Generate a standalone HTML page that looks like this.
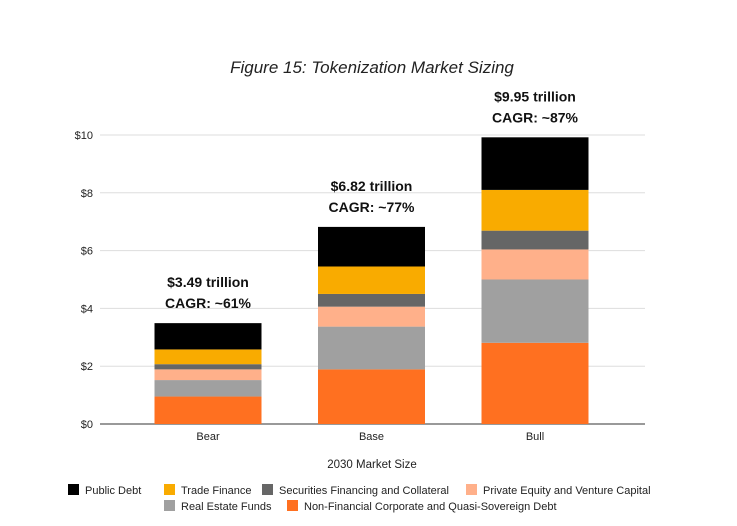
<!DOCTYPE html>
<html><head><meta charset="utf-8"><style>
body{margin:0;background:#fff;}
svg{display:block;font-family:"Liberation Sans",sans-serif;}
</style></head><body>
<svg id="chart" width="737" height="526">
<text x="372" y="73" text-anchor="middle" font-size="17" font-style="italic" fill="#222">Figure 15: Tokenization Market Sizing</text>
<g id="grid"></g><g id="bars"></g><g id="ann"></g>
<text x="372" y="468" text-anchor="middle" font-size="11.5" fill="#222">2030 Market Size</text>
<g id="legend"></g>
</svg>
<script>
const categories=["Bear","Base","Bull"];
const seriesNames=["Non-Financial Corporate and Quasi-Sovereign Debt","Real Estate Funds","Private Equity and Venture Capital","Securities Financing and Collateral","Trade Finance","Public Debt"];
const nonFinancial=[0.95,1.89,2.81];
const realEstate=[0.57,1.48,2.19];
const privateEquity=[0.37,0.69,1.04];
const securitiesFin=[0.18,0.44,0.65];
const tradeFinance=[0.51,0.95,1.41];
const publicDebt=[0.91,1.37,1.82];
const totals=["$3.49 trillion","$6.82  trillion","$9.95  trillion"];
const cagrs=["CAGR: ~61%","CAGR: ~77%","CAGR: ~87%"];
const yTicks=[0,2,4,6,8,10];
const colors=["#ff7020","#a0a0a0","#ffb08a","#666666","#f9ab00","#000000"];
const series=[nonFinancial,realEstate,privateEquity,securitiesFin,tradeFinance,publicDebt];
const NS="http://www.w3.org/2000/svg";
const y=v=>424-v*28.9;
const xc=i=>208+i*163.5;
const bw=107;
function mk(tag,attrs,parent,text){const e=document.createElementNS(NS,tag);for(const k in attrs)e.setAttribute(k,attrs[k]);if(text!==undefined)e.textContent=text;parent.appendChild(e);return e;}
const grid=document.getElementById('grid');
yTicks.forEach(t=>{
 const l=mk('line',{x1:100,x2:645,y1:y(t),y2:y(t),stroke:t===0?'#333':'#ddd','stroke-width':1},grid);
 
 
 const tx=mk('text',{x:93,y:y(t)+4,'text-anchor':'end','font-size':11,fill:'#222'},grid,'$'+t);
 
 
});
const bars=document.getElementById('bars');
categories.forEach((c,i)=>{
 let base=0;
 series.forEach((s,j)=>{
  const r=mk('rect',{x:xc(i)-bw/2,y:y(base+s[i]),width:bw,height:s[i]*28.9,fill:colors[j]},bars);
  
  
  base+=s[i];
 });
 const lbl=mk('text',{x:xc(i),y:440,'text-anchor':'middle','font-size':11,fill:'#222'},bars,c);
 
 
 const a=document.getElementById('ann');
 const t1=mk('text',{x:xc(i),y:y(base)-36,'text-anchor':'middle','font-size':14,'font-weight':'bold',fill:'#111'},a,totals[i]);
 
 
 const t2=mk('text',{x:xc(i),y:y(base)-15,'text-anchor':'middle','font-size':14,'font-weight':'bold',fill:'#111'},a,cagrs[i]);
 
 
});
const leg=document.getElementById('legend');
const legItems=[[5,68,494],[4,164,494],[3,262,494],[2,466,494],[1,164,510],[0,287,510]];
legItems.forEach(([j,x,yy])=>{
 const g=mk('g',{},leg);
 
 
 mk('rect',{x:x,y:yy-10,width:11,height:11,fill:colors[j]},g);
 mk('text',{x:x+17,y:yy,'font-size':11,fill:'#222'},g,seriesNames[j]);
});
</script>
</body></html>
